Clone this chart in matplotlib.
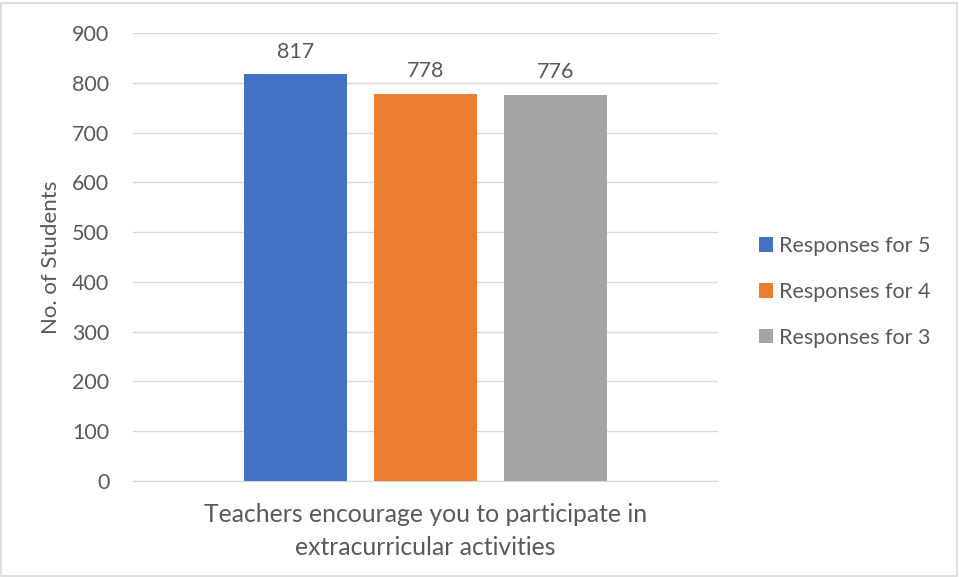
import matplotlib.pyplot as plt
from matplotlib.patches import Rectangle

# 数据
series = ['Responses for 5', 'Responses for 4', 'Responses for 3']
counts = [817, 778, 776]
colors = ['#4472C4', '#ED7D31', '#A5A5A5']
category = 'Teachers encourage you to participate in\nextracurricular activities'
yticks = [0, 100, 200, 300, 400, 500, 600, 700, 800, 900]

plt.rcParams['font.family'] = ['Lato', 'DejaVu Sans']
txt = '#595959'

fig = plt.figure(figsize=(9.59, 5.77), dpi=100)
ax = fig.add_axes([0.1387, 0.1664, 0.61, 0.7764])

# 三个系列各画一根柱
offsets = [-1, 0, 1]
for off, name, v, c in zip(offsets, series, counts, colors):
    ax.bar(off, v, width=0.79, color=c, label=name, zorder=3)
    ax.annotate(str(v), (off, v), xytext=(0, 9), textcoords='offset points',
                ha='center', va='bottom', fontsize=15.5, color=txt)

ax.set_xlim(-2.25, 2.25)
ax.set_ylim(0, 900)
ax.set_yticks(yticks)
ax.set_xticks([])
ax.grid(axis='y', color='#d9d9d9', linewidth=1, zorder=0)
for s in ['top', 'right', 'left']:
    ax.spines[s].set_visible(False)
ax.spines['bottom'].set_color('#d9d9d9')
ax.tick_params(axis='y', length=0, pad=17, labelsize=15.5, labelcolor=txt)

ax.set_xlabel(category, fontsize=17.8, color=txt, labelpad=16, linespacing=1.5)
ax.set_ylabel('No. of Students', fontsize=16, color=txt, labelpad=8)

fig.legend(loc='center left', bbox_to_anchor=(0.771, 0.494), frameon=False,
           fontsize=15.5, labelcolor=txt, handlelength=0.65, handleheight=0.65,
           handletextpad=0.3, labelspacing=1.2)

# 外框
fig.add_artist(Rectangle((0.001, 0.001), 0.997, 0.993, transform=fig.transFigure,
                         fill=False, edgecolor='#d9d9d9', linewidth=1.2))

fig.savefig('out.png', dpi=100)
